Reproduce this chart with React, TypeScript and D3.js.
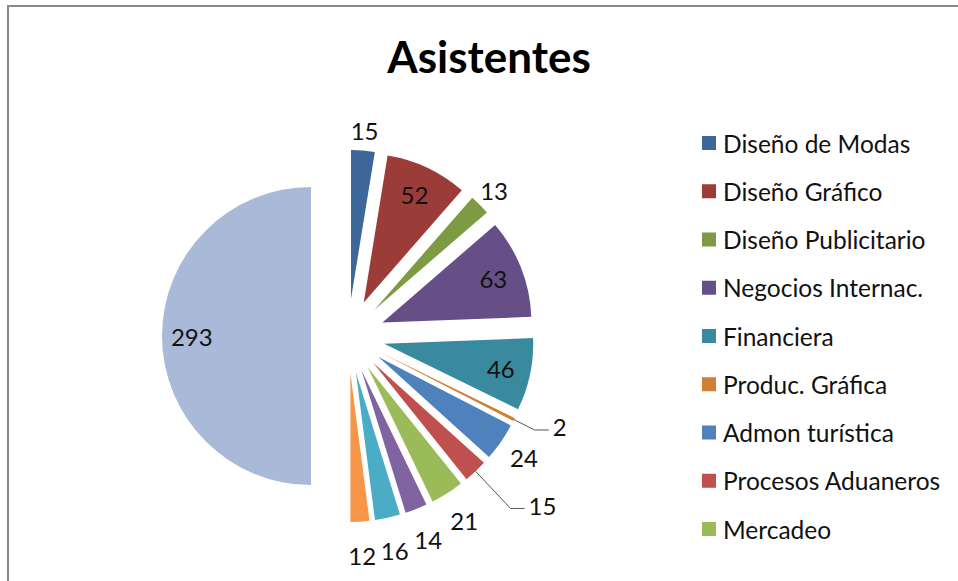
import React, { useRef, useEffect } from 'react'
import * as d3 from 'd3'

// attendees per program, last slice is the total of all others
const categories = [
  'Diseño de Modas',
  'Diseño Gráfico',
  'Diseño Publicitario',
  'Negocios Internac.',
  'Financiera',
  'Produc. Gráfica',
  'Admon turística',
  'Procesos Aduaneros',
  'Mercadeo',
  'Contaduría',
  'Ingeniería',
  'Administración',
  'Total'
]
const values = [15, 52, 13, 63, 46, 2, 24, 15, 21, 14, 16, 12, 293]
const colors = [
  '#3c6798',
  '#9c3c39',
  '#7e9b43',
  '#664e86',
  '#398a9f',
  '#d07f35',
  '#4f81bd',
  '#c0504d',
  '#9bbb59',
  '#8064a2',
  '#4bacc6',
  '#f79646',
  '#a9bad9'
]
const title = 'Asistentes'

// the legend box in the original only has room for the first 9 entries
const legendCount = 9
// labels that Excel pulled out with a leader line (index -> extra length)
const leaders = { 5: 23, 7: 51 }

const width = 958
const height = 581
const cx = 348
const cy = 336
const radius = 149
const explode = 37

const App = () => {
  const svgRef = useRef()

  useEffect(() => {
    const svg = d3.select(svgRef.current)
    svg.selectAll('*').remove()

    // chart frame, only the top and left edges fall in the picture
    svg
      .append('rect')
      .attr('x', 8)
      .attr('y', 6)
      .attr('width', width + 20)
      .attr('height', height + 20)
      .attr('fill', '#fff')
      .attr('stroke', '#898989')
      .attr('stroke-width', 2)

    svg
      .append('text')
      .attr('x', 489)
      .attr('y', 73)
      .attr('text-anchor', 'middle')
      .attr('font-family', 'Lato, sans-serif')
      .attr('font-weight', 'bold')
      .attr('font-size', 44)
      .attr('fill', '#000')
      .text(title)

    const data = values.map((v, i) => ({ name: categories[i], value: v, color: colors[i], i }))
    const total = d3.sum(values)

    const pie = d3
      .pie()
      .sort(null)
      .value(d => d.value)
      .startAngle(0)
      .endAngle(2 * Math.PI)

    const arc = d3.arc().innerRadius(0).outerRadius(radius)
    const arcs = pie(data)

    const dir = a => [Math.sin(a), -Math.cos(a)]

    const g = svg.append('g').attr('transform', `translate(${cx},${cy})`)

    g.selectAll('path')
      .data(arcs)
      .join('path')
      .attr('transform', d => {
        const [ux, uy] = dir((d.startAngle + d.endAngle) / 2)
        return `translate(${ux * explode},${uy * explode})`
      })
      .attr('d', arc)
      .attr('fill', d => d.data.color)

    const labels = g.append('g')
    arcs.forEach(d => {
      const mid = (d.startAngle + d.endAngle) / 2
      const [ux, uy] = dir(mid)
      const ax = ux * explode
      const ay = uy * explode
      const share = d.data.value / total
      const lead = leaders[d.data.i]

      if (lead) {
        const sx = ax + ux * radius
        const sy = ay + uy * radius
        const ex = ax + ux * (radius + lead)
        const ey = ay + uy * (radius + lead)
        labels
          .append('path')
          .attr('d', `M${sx},${sy}L${ex},${ey}H${ex + 14}`)
          .attr('fill', 'none')
          .attr('stroke', '#555')
          .attr('stroke-width', 1)
        labels
          .append('text')
          .attr('x', ex + 18)
          .attr('y', ey - 3)
          .attr('dominant-baseline', 'central')
          .attr('font-family', 'Lato, sans-serif')
          .attr('font-size', 24)
          .attr('fill', '#111')
          .text(d.data.value)
        return
      }

      const r = share > 0.06 ? radius * 0.8 : radius + 20 + 14 * Math.max(0, -Math.cos(mid))
      labels
        .append('text')
        .attr('x', ax + ux * r)
        .attr('y', ay + uy * r)
        .attr('text-anchor', 'middle')
        .attr('dominant-baseline', 'central')
        .attr('font-family', 'Lato, sans-serif')
        .attr('font-size', 24)
        .attr('fill', '#111')
        .text(d.data.value)
    })

    // legend
    const legend = svg
      .append('g')
      .selectAll('g')
      .data(data.slice(0, legendCount))
      .join('g')
      .attr('transform', (d, i) => `translate(702,${143 + i * 48.25})`)

    legend
      .append('rect')
      .attr('y', -7)
      .attr('width', 14)
      .attr('height', 14)
      .attr('fill', d => d.color)

    legend
      .append('text')
      .attr('x', 21)
      .attr('dominant-baseline', 'central')
      .attr('font-family', 'Lato, sans-serif')
      .attr('font-size', 24.5)
      .attr('fill', '#111')
      .text(d => d.name)
  }, [])

  return (
    <div style={{ position: 'fixed', left: 0, top: 0 }}>
      <svg ref={svgRef} viewBox={`0,0,${width},${height}`} width={width} height={height} />
    </div>
  )
}

export default App
